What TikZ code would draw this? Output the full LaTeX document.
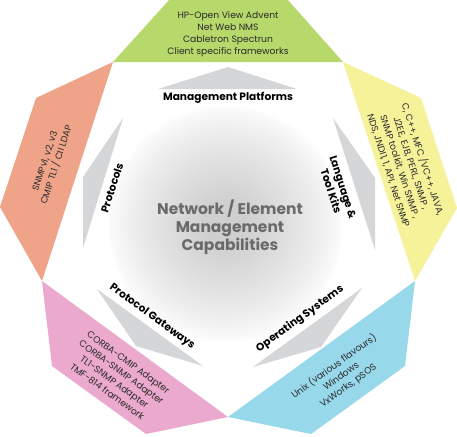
\documentclass[tikz,border=0pt]{standalone}
\usepackage{fontspec}
\setmainfont{Poppins}
\definecolor{cgreen}{HTML}{B7D86B}
\definecolor{cyellow}{HTML}{F6F29A}
\definecolor{csalmon}{HTML}{EFA48A}
\definecolor{cpink}{HTML}{EBA9CD}
\definecolor{cblue}{HTML}{97D8EA}
\definecolor{cgrayshape}{HTML}{D5D6D8}
\definecolor{cgin}{HTML}{CFCFCF}
\definecolor{ctitlecol}{HTML}{6A6A6A}
\definecolor{couttxt}{HTML}{2A2A2A}
\begin{document}
\begin{tikzpicture}[x=1pt,y=-1pt,
  outtxt/.style={text=couttxt, align=center, inner sep=0pt, font=\fontsize{9.2}{12}\selectfont},
  lbl/.style={text=black, align=center, inner sep=0pt, font=\bfseries\fontsize{10.6}{12.5}\selectfont},
  ctitle/.style={text=ctitlecol, align=center, inner sep=0pt, font=\bfseries\fontsize{15.5}{18}\selectfont},
  grayshape/.style={fill=cgrayshape, draw=none}]
\useasboundingbox (0,0) rectangle (457,436);
\fill[white] (0,0) rectangle (457,436);
% outer trapezoids
\fill[cgreen]  (113,62) -- (170,-1) -- (287,-1) -- (343,62) -- cycle;
\fill[cyellow] (343,62) -- (421,98) -- (457,208) -- (415,281) -- cycle;
\fill[cblue]   (415,281) -- (405,366) -- (311,434) -- (228,417) -- cycle;
\fill[cpink]   (228,417) -- (146,434) -- (52,366) -- (42,281) -- cycle;
\fill[csalmon] (42,281) -- (0,207) -- (36,98) -- (113,62) -- cycle;
% central gradient
\foreach \i in {0,...,59} {
  \pgfmathsetmacro\rr{118-\i*98/59}
  \pgfmathsetmacro\pp{4+96*(\i/59)^0.8}
  \fill[cgin!\pp!white] (226,224) circle (\rr pt);
}
% gray shapes
\fill[grayshape] (158,89) -- (228,67) -- (297,89) -- cycle;
\fill[grayshape] (123,118) -- (83,177) -- (83,248) -- cycle;
\fill[grayshape] (333,118) -- (375,178) -- (375,250) -- cycle;
\fill[grayshape] (97,289) -- (136,346) -- (203,366) -- cycle;
\fill[grayshape] (362,288) -- (321,347) -- (253,367) -- cycle;
% outer texts
\node[outtxt] (tmp) at (228,34) {HP-Open View Advent\\Net Web NMS\\Cabletron Spectrun\\Client specific frameworks};
\node[outtxt, rotate=-72] (tlang) at (406,165) {C, C++, MFC /VC++, JAVA,\\J2EE, EJB, PERL, SNMP ,\\SNMP toolkit, Win SNMP ,\\NDS, JNDI1, 1, API, Net SNMP};
\node[outtxt, rotate=-36] (tgw) at (118,377) {CORBA-CMIP Adapter\\CORBA-SNMP Adapter\\TL1-SNMP Adapter\\TMF-814 framework};
\node[outtxt, rotate=36] (tos) at (341,376) {Unix (various flavours)\\Windows\\VxWorks, pSOS};
\node[outtxt, rotate=72] (tprot) at (51,163) {SNMPv1, v2, v3\\CMIP TL1 / CII LDAP};
% inner labels
\node[lbl] (lmp) at (228,98) {Management Platforms};
\node[lbl, rotate=72] (lprot) at (112,188) {Protocols};
\node[lbl, rotate=-72] (llang) at (337,189) {Language \&\\Tool Kits};
\node[lbl, rotate=-36] (lgw) at (152,317) {Protocol Gateways};
\node[lbl, rotate=36] (los) at (300,319) {Operating Systems};
% title
\node[ctitle] (title) at (230,227) {Network / Element\\Management\\Capabilities};
\end{tikzpicture}
\end{document}
